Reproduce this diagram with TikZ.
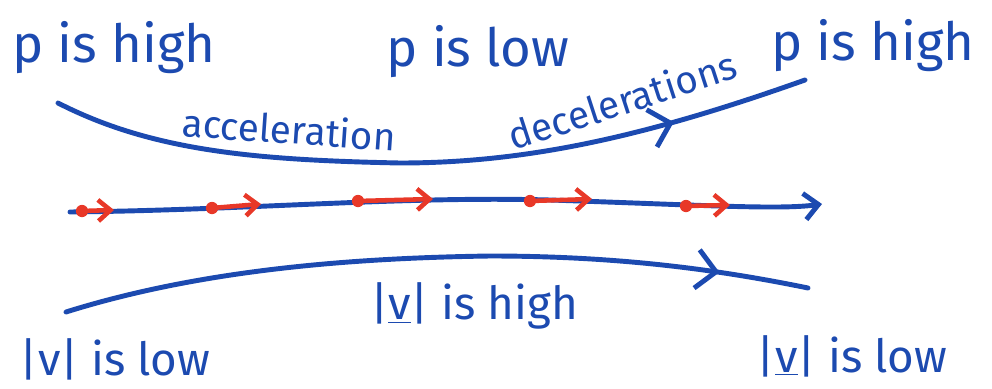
\documentclass[tikz,border=0pt]{standalone}
\usepackage{fontspec}
\setmainfont{Fira Sans}
\usetikzlibrary{arrows.meta,decorations.markings}
\definecolor{ink}{RGB}{28,74,176}
\definecolor{redink}{RGB}{232,56,40}
\begin{document}
\begin{tikzpicture}[x=0.02cm,y=-0.02cm,
  pen/.style={draw=ink,line width=2.8pt,line cap=round,line join=round},
  redpen/.style={draw=redink,line width=2.6pt,line cap=round,
    -{Straight Barb[length=7pt,width=12pt,line width=2.6pt]}},
  dot/.style={circle,fill=redink,inner sep=0pt,minimum size=7pt},
  endbarb/.style={-{Straight Barb[length=8pt,width=15pt,line width=2.8pt]}},
  midarrow/.style={postaction={decorate},decoration={markings,
    mark=at position #1 with {\arrow{Straight Barb[length=11pt,width=22pt,line width=2.8pt]}}}},
  big/.style={text=ink,font=\fontsize{30}{36}\selectfont,inner sep=0pt},
  mid/.style={text=ink,font=\fontsize{26}{30}\selectfont,inner sep=0pt},
  small/.style={text=ink,font=\fontsize{22}{26}\selectfont,inner sep=0pt}
]
\useasboundingbox (0,0) rectangle (992,389);

% pressure labels
\node[big] (phighL) at (114,48) {p is high};
\node[big] (plow)   at (478,52) {p is low};
\node[big] (phighR) at (873,46) {p is high};

% upper streamline
\coordinate (tA) at (58,103);
\coordinate (tB) at (805,80);
\draw[pen,midarrow=0.82] (tA) .. controls (150,150) and (250,160) .. (400,163)
  .. controls (530,163) and (650,135) .. (tB);
\node[small,rotate=-4] (acc) at (289,129) {acceleration};
\node[small,rotate=18] (dec) at (622,100) {decelerations};

% central streamline
\coordinate (mA) at (70,212);
\coordinate (mB) at (822,204);
\draw[pen,endbarb] (mA) .. controls (250,210) and (400,196) .. (550,200)
  .. controls (700,205) and (780,210) .. (mB);

% velocity vectors along the central streamline
\node[dot] (d1) at (82,211) {};
\coordinate (e1) at (114,210);
\node[dot] (d2) at (212,208) {};
\coordinate (e2) at (261,204);
\node[dot] (d3) at (358,201) {};
\coordinate (e3) at (433,199);
\node[dot] (d4) at (530,201) {};
\coordinate (e4) at (592,199);
\node[dot] (d5) at (686,206) {};
\coordinate (e5) at (730,205);
\foreach \i in {1,...,5} \draw[redpen] (d\i.center) -- (e\i);

% lower streamline
\coordinate (bA) at (66,312);
\coordinate (bB) at (808,288);
\draw[pen,midarrow=0.88] (bA) .. controls (200,270) and (350,258) .. (490,256)
  .. controls (620,256) and (720,270) .. (bB);

% speed labels
\node[mid] (vhigh) at (474,306) {|\underline{v}| is high};
\node[mid] (vlowL) at (115,359) {|v| is low};
\node[mid] (vlowR) at (852,356) {|\underline{v}| is low};
\end{tikzpicture}
\end{document}
